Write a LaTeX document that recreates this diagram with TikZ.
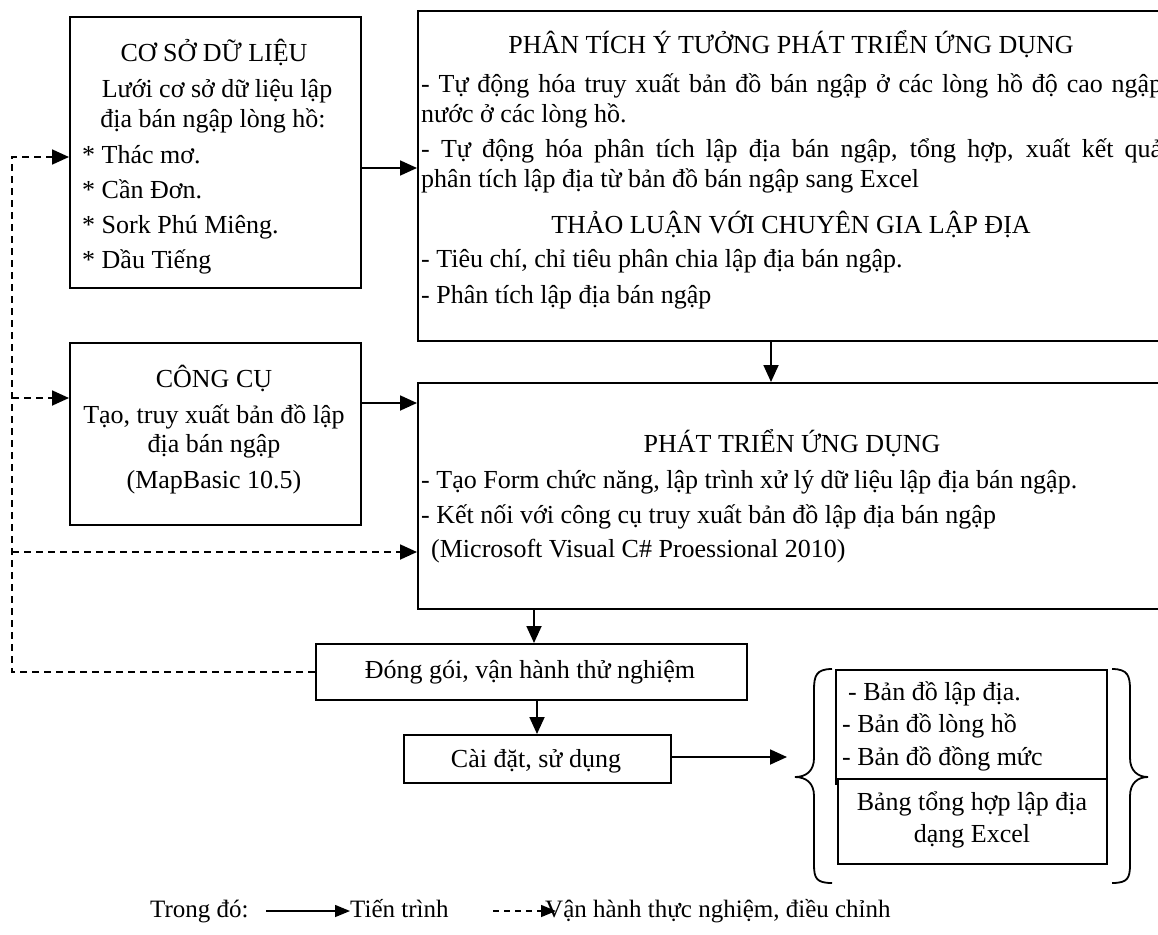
\documentclass[tikz,border=0pt]{standalone}
\usepackage{fontspec}
\setmainfont{Liberation Serif}
\usetikzlibrary{arrows.meta}
\begin{document}
\begin{tikzpicture}[x=1pt,y=-1pt,
  box/.style={draw,line width=1.8pt,rectangle,inner sep=0pt,anchor=north west},
  txt/.style={inner sep=0pt,font=\fontsize{26}{33}\selectfont},
  lt/.style={txt,anchor=base west},
  ct/.style={txt,anchor=base},
  tip/.style={-{Triangle[length=17pt,width=15pt]}},
  flow/.style={line width=1.8pt,tip},
  fb/.style={line width=1.8pt,dash pattern=on 7pt off 5pt},
  fbarrow/.style={fb,tip},
  brace/.style={line width=1.8pt},
  legtxt/.style={lt,font=\fontsize{25}{30}\selectfont}]
\useasboundingbox (0,0) rectangle (1158,934);
\clip (0,0) rectangle (1158,934);

% boxes
\node[box,minimum width=291pt,minimum height=271pt] (db) at (69,16) {};
\node[box,minimum width=760pt,minimum height=330pt] (ana) at (417,10) {};
\node[box,minimum width=291pt,minimum height=182pt] (tool) at (69,342) {};
\node[box,minimum width=760pt,minimum height=226pt] (dev) at (417,382) {};
\node[box,minimum width=431pt,minimum height=56pt] (pack) at (315,643) {};
\node[box,minimum width=267pt,minimum height=48pt] (inst) at (403,734) {};
\node[box,minimum width=271pt,minimum height=114pt] (maps) at (835,669) {};
\node[box,fill=white,minimum width=269pt,minimum height=85pt] (tab) at (837,778) {};

% database box
\node[ct] (db1) at (214,62) {CƠ SỞ DỮ LIỆU};
\node[ct] (db2) at (217,97) {Lưới cơ sở dữ liệu lập};
\node[ct] (db3) at (213,127) {địa bán ngập lòng hồ:};
\node[lt] (db4) at (82,163) {* Thác mơ.};
\node[lt] (db5) at (82,198) {* Cần Đơn.};
\node[lt] (db6) at (82,233) {* Sork Phú Miêng.};
\node[lt] (db7) at (82,268) {* Dầu Tiếng};

% analysis box
\node[ct] (an1) at (791,53) {PHÂN TÍCH Ý TƯỞNG PHÁT TRIỂN ỨNG DỤNG};
\node[lt] (an2) at (421,92) {\makebox[741pt][s]{- Tự động hóa truy xuất bản đồ bán ngập ở các lòng hồ độ cao ngập}};
\node[lt] (an3) at (421,122) {nước ở các lòng hồ.};
\node[lt] (an4) at (421,157) {\makebox[741pt][s]{- Tự động hóa phân tích lập địa bán ngập, tổng hợp, xuất kết quả}};
\node[lt] (an5) at (421,187) {phân tích lập địa từ bản đồ bán ngập sang Excel};
\node[ct] (an6) at (791,233) {THẢO LUẬN VỚI CHUYÊN GIA LẬP ĐỊA};
\node[lt] (an7) at (421,267) {- Tiêu chí, chỉ tiêu phân chia lập địa bán ngập.};
\node[lt] (an8) at (421,303) {- Phân tích lập địa bán ngập};

% tool box
\node[ct] (tl1) at (214,387) {CÔNG CỤ};
\node[ct] (tl2) at (214,423) {Tạo, truy xuất bản đồ lập};
\node[ct] (tl3) at (214,452) {địa bán ngập};
\node[ct] (tl4) at (214,488) {(MapBasic 10.5)};

% development box
\node[ct] (dv1) at (792,452) {PHÁT TRIỂN ỨNG DỤNG};
\node[lt] (dv2) at (421,488) {- Tạo Form chức năng, lập trình xử lý dữ liệu lập địa bán ngập.};
\node[lt] (dv3) at (421,523) {- Kết nối với công cụ truy xuất bản đồ lập địa bán ngập};
\node[lt] (dv4) at (431,557) {(Microsoft Visual C\# Proessional 2010)};

% packaging and installation
\node[ct] (pk) at (530,678) {Đóng gói, vận hành thử nghiệm};
\node[ct] (in) at (536,767) {Cài đặt, sử dụng};

% outputs
\node[lt] (mp1) at (848,700) {- Bản đồ lập địa.};
\node[lt] (mp2) at (842,732) {- Bản đồ lòng hồ};
\node[lt] (mp3) at (842,765) {- Bản đồ đồng mức};
\node[ct] (tb1) at (972,810) {Bảng tổng hợp lập địa};
\node[ct] (tb2) at (972,842) {dạng Excel};

% braces
\draw[brace] (832,669) .. controls (816,669) and (814,676) .. (814,690)
  -- (814,758) .. controls (814,771) and (806,777) .. (795,777)
  .. controls (806,777) and (814,783) .. (814,796)
  -- (814,864) .. controls (814,878) and (816,883) .. (832,883);
\draw[brace] (1112,669) .. controls (1128,669) and (1130,676) .. (1130,690)
  -- (1130,758) .. controls (1130,771) and (1138,777) .. (1148,777)
  .. controls (1138,777) and (1130,783) .. (1130,796)
  -- (1130,864) .. controls (1130,878) and (1128,883) .. (1112,883);

% process flow
\draw[flow] (db.east |- 0,168) -- (ana.west |- 0,168);
\draw[flow] (ana.south -| 771,0) -- (dev.north -| 771,0);
\draw[flow] (tool.east |- 0,403) -- (dev.west |- 0,403);
\draw[flow] (dev.south -| 534,0) -- (pack.north -| 534,0);
\draw[flow] (pack.south -| 537,0) -- (inst.north -| 537,0);
\coordinate (res) at (787,757);
\draw[flow] (inst.east |- res) -- (res);

% trial-run feedback
\coordinate (fbx) at (12,0);
\draw[fbarrow] (pack.west) -| (fbx |- 0,157) -- (db.west |- 0,157);
\draw[fbarrow] (fbx |- 0,398) -- (tool.west |- 0,398);
\draw[fbarrow] (fbx |- 0,552) -- (dev.west |- 0,552);

% legend
\node[legtxt] (lg0) at (150,917) {Trong đó:};
\node[legtxt] (lg1) at (350,917) {Tiến trình};
\node[legtxt] (lg2) at (545,917) {Vận hành thực nghiệm, điều chỉnh};
\coordinate (l1s) at (266,911);
\coordinate (l2s) at (493,911);
\coordinate (l2e) at (556,911);
\draw[line width=1.5pt,-{Triangle[length=15pt,width=12pt]}] (l1s) -- (lg1.west |- l1s);
\draw[line width=1.5pt,dash pattern=on 6pt off 5pt,-{Triangle[length=15pt,width=12pt]}] (l2s) -- (l2e);
\end{tikzpicture}
\end{document}
